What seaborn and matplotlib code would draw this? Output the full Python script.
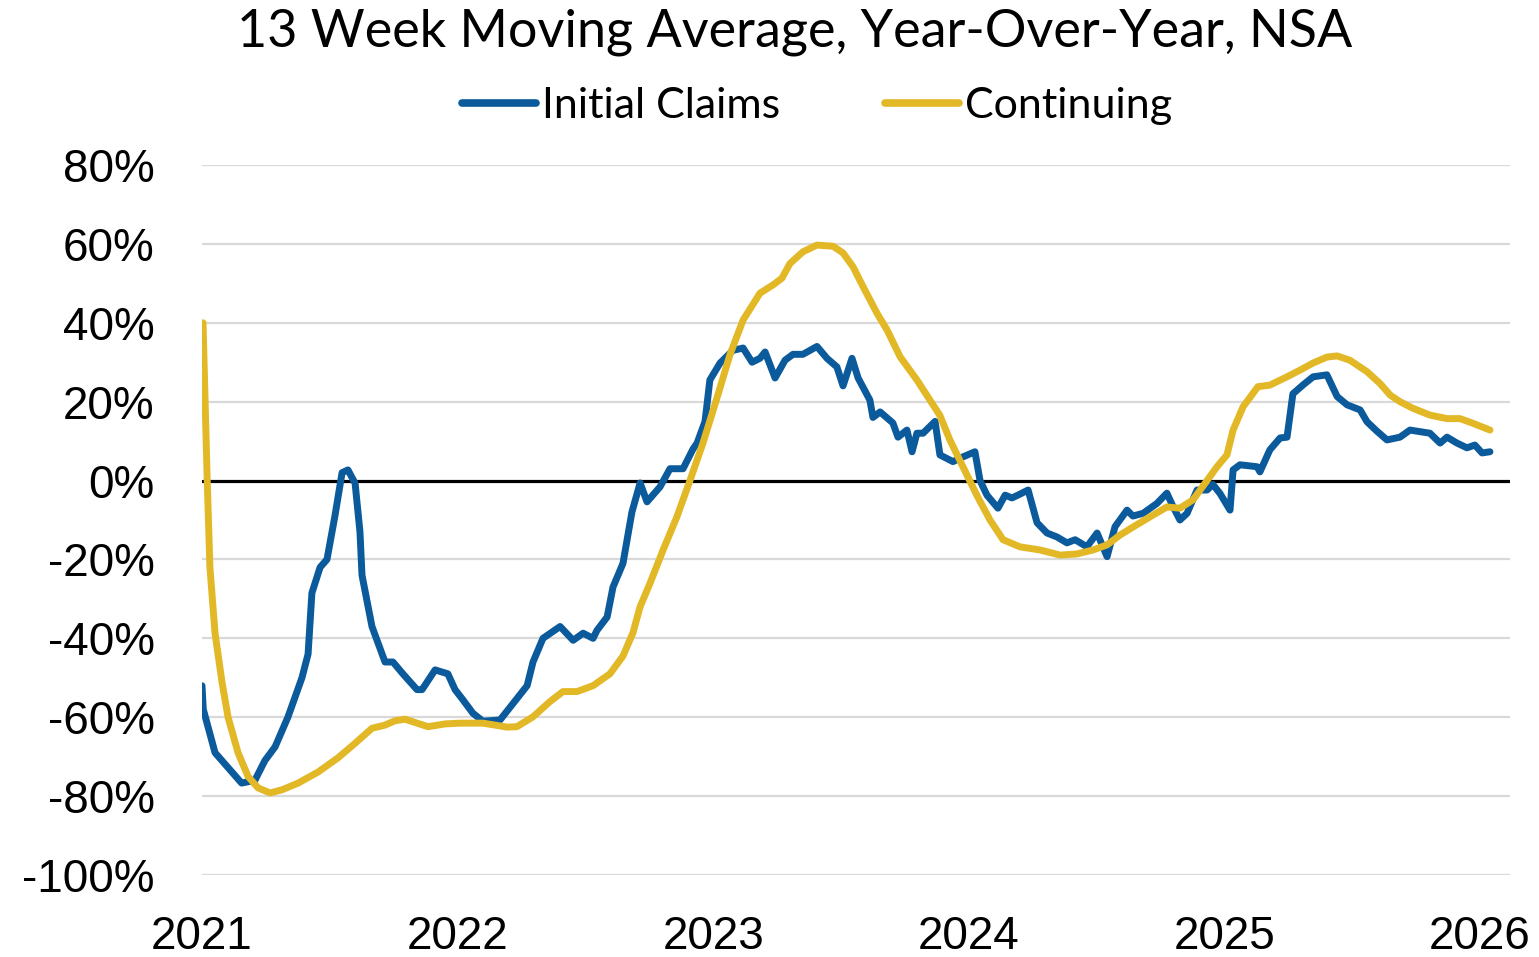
import numpy as np
import pandas as pd
import matplotlib
matplotlib.use("Agg")
import matplotlib.pyplot as plt
import seaborn as sns

# ---- data (decimal year, % YoY) ----
ic_year = [2021.000, 2021.005, 2021.051, 2021.155, 2021.207, 2021.246, 2021.286, 2021.336, 2021.391,
           2021.415, 2021.430, 2021.462, 2021.489, 2021.520, 2021.548, 2021.571, 2021.599, 2021.618,
           2021.626, 2021.665, 2021.716, 2021.747, 2021.786, 2021.841, 2021.861, 2021.912, 2021.962,
           2021.990, 2022.021, 2022.060, 2022.099, 2022.166, 2022.217, 2022.272, 2022.295, 2022.334,
           2022.401, 2022.452, 2022.491, 2022.530, 2022.545, 2022.585, 2022.608, 2022.647, 2022.682,
           2022.714, 2022.741, 2022.792, 2022.831, 2022.882, 2022.921, 2022.937, 2022.968, 2022.987,
           2023.027, 2023.077, 2023.117, 2023.152, 2023.183, 2023.203, 2023.242, 2023.281, 2023.312,
           2023.351, 2023.406, 2023.445, 2023.484, 2023.508, 2023.543, 2023.567, 2023.613, 2023.625,
           2023.653, 2023.703, 2023.723, 2023.758, 2023.778, 2023.797, 2023.821, 2023.868, 2023.887,
           2023.938, 2023.977, 2024.024, 2024.044, 2024.071, 2024.114, 2024.142, 2024.169, 2024.192,
           2024.232, 2024.267, 2024.306, 2024.345, 2024.384, 2024.416, 2024.462, 2024.502, 2024.541,
           2024.572, 2024.619, 2024.642, 2024.682, 2024.736, 2024.775, 2024.799, 2024.826, 2024.854,
           2024.893, 2024.932, 2024.955, 2024.983, 2025.022, 2025.034, 2025.061, 2025.128, 2025.139,
           2025.178, 2025.218, 2025.245, 2025.268, 2025.307, 2025.347, 2025.401, 2025.441, 2025.480,
           2025.531, 2025.558, 2025.597, 2025.636, 2025.687, 2025.726, 2025.804, 2025.844, 2025.871,
           2025.910, 2025.949, 2025.980, 2026.008, 2026.039]
ic_value = [-52, -58, -69, -76.7, -76, -71, -67.5, -60, -50,
            -44, -28.5, -22, -20, -9, 2, 2.7, -0.7, -13,
            -24, -37, -46, -46, -49, -53, -53, -48, -49,
            -53, -55.6, -59, -61, -60.7, -56.5, -52, -46, -40,
            -37, -40.5, -38.7, -40, -38, -34.6, -27, -21, -8,
            -0.6, -5.4, -1.6, 3, 3, 8, 9.5, 15, 25.5,
            29.8, 33, 33.6, 30, 31, 32.6, 26, 30.5, 32,
            32, 34, 31, 28.8, 24, 31, 26, 20.4, 16,
            17.4, 14.6, 11, 12.8, 7.3, 12, 12, 15, 6.5,
            4.8, 6, 7.3, 0, -3.7, -7, -3.7, -4.4, -3.7,
            -2.4, -10.7, -13.3, -14.3, -15.8, -15, -16.8, -13.3, -19.3,
            -11.7, -7.5, -9, -8.3, -5.8, -3.2, -6.6, -10, -8.3,
            -2.4, -2.4, -1, -3.3, -7.5, 2.7, 4, 3.5, 2.2,
            7.8, 10.8, 11, 22, 24.2, 26.3, 26.8, 21.3, 19.2,
            17.9, 14.9, 12.5, 10.3, 11, 12.8, 12, 9.5, 11,
            9.5, 8.3, 9, 7, 7.3]

cc_year = [2021.004, 2021.020, 2021.031, 2021.051, 2021.078, 2021.102, 2021.141, 2021.180, 2021.219,
           2021.266, 2021.313, 2021.376, 2021.454, 2021.532, 2021.599, 2021.665, 2021.716, 2021.755,
           2021.794, 2021.884, 2021.951, 2022.009, 2022.099, 2022.193, 2022.232, 2022.295, 2022.362,
           2022.412, 2022.467, 2022.530, 2022.596, 2022.647, 2022.686, 2022.714, 2022.753, 2022.804,
           2022.858, 2022.909, 2022.960, 2023.015, 2023.066, 2023.117, 2023.183, 2023.234, 2023.269,
           2023.300, 2023.351, 2023.406, 2023.469, 2023.508, 2023.547, 2023.586, 2023.641, 2023.680,
           2023.731, 2023.797, 2023.848, 2023.887, 2023.926, 2023.977, 2024.032, 2024.083, 2024.134,
           2024.200, 2024.279, 2024.357, 2024.423, 2024.486, 2024.541, 2024.592, 2024.642, 2024.709,
           2024.775, 2024.826, 2024.877, 2024.932, 2024.971, 2025.010, 2025.034, 2025.073, 2025.131,
           2025.178, 2025.245, 2025.296, 2025.347, 2025.401, 2025.441, 2025.491, 2025.558, 2025.609,
           2025.648, 2025.687, 2025.738, 2025.804, 2025.871, 2025.922, 2025.973, 2026.039]
cc_value = [40, 1, -22, -38.7, -51, -60, -69, -75, -77.9,
            -79.2, -78.4, -76.7, -73.9, -70.3, -66.6, -62.8, -62, -60.9,
            -60.5, -62.4, -61.7, -61.5, -61.5, -62.5, -62.4, -59.9, -56,
            -53.5, -53.5, -52, -49, -44.5, -38.6, -32, -26, -17.6,
            -9.2, 0, 9.5, 21, 32, 40.7, 47.5, 49.6, 51.3,
            55, 58, 59.7, 59.4, 57.7, 54.2, 49.2, 42.4, 38.2,
            31.4, 25.5, 20.4, 16.5, 10.3, 3.5, -3.8, -10, -15,
            -16.8, -17.6, -18.9, -18.6, -17.6, -16.3, -13.8, -11.8, -9.2,
            -6.7, -7, -4.9, 0, 3.5, 6.5, 12.8, 18.7, 23.8,
            24.2, 26.3, 28, 29.8, 31.3, 31.6, 30.5, 27.6, 24.6,
            21.7, 20, 18.3, 16.6, 15.7, 15.7, 14.5, 12.8]

series_names = ["Initial Claims", "Continuing"]
year_ticks = [2021, 2022, 2023, 2024, 2025, 2026]
pct_ticks = [80, 60, 40, 20, 0, -20, -40, -60, -80, -100]
title = "13 Week Moving Average, Year-Over-Year, NSA"

BLUE = "#0B5A9C"
GOLD = "#E2B826"

df = pd.concat([
    pd.DataFrame({"year": ic_year, "value": ic_value, "series": series_names[0]}),
    pd.DataFrame({"year": cc_year, "value": cc_value, "series": series_names[1]}),
], ignore_index=True)

sns.set_theme(style="white")
plt.rcParams["font.family"] = ["Lato", "DejaVu Sans"]
plt.rcParams["text.color"] = "black"
plt.rcParams["xtick.color"] = "black"
plt.rcParams["ytick.color"] = "black"
plt.rcParams["lines.solid_joinstyle"] = "round"
plt.rcParams["lines.solid_capstyle"] = "round"

W, H = 1539, 957
fig = plt.figure(figsize=(W / 100, H / 100), dpi=100)
ax = fig.add_axes([202 / W, 1 - 875 / H, (1510 - 202) / W, (875 - 165) / H])

for v in pct_ticks:
    if v != 0:
        ax.axhline(v, color="#D9D9D9", lw=1.6, zorder=0)
ax.axhline(0, color="black", lw=2.3, zorder=1)

sns.lineplot(data=df, x="year", y="value", hue="series", palette=[BLUE, GOLD],
             hue_order=series_names, linewidth=5.0, ax=ax, legend=False,
             sort=False, estimator=None, zorder=3)

ax.set_xlim(2021, 2021 + (1510 - 202) / 255.6)
ax.set_ylim(-100, 80)
ax.set_xticks(year_ticks)
ax.set_xticklabels([str(y) for y in year_ticks])
ax.set_yticks(pct_ticks)
ax.set_yticklabels([f"{v}%" for v in pct_ticks])
tick_font = ["Liberation Sans", "DejaVu Sans"]
for lab in ax.get_xticklabels() + ax.get_yticklabels():
    lab.set_fontfamily(tick_font)
    lab.set_color("black")
ax.tick_params(axis="y", length=0, pad=34, labelsize=33)
ax.tick_params(axis="x", length=0, pad=29, labelsize=33)
for s in ax.spines.values():
    s.set_visible(False)
ax.set_xlabel("")
ax.set_ylabel("")
ax.grid(False)

fig.text(795 / W, 1 - 32 / H, title, ha="center", va="center", fontsize=37.5, color="black")

handles = [plt.Line2D([], [], color=BLUE, lw=5.5, solid_capstyle="round"),
           plt.Line2D([], [], color=GOLD, lw=5.5, solid_capstyle="round")]
leg = fig.legend(handles, series_names, loc="center", bbox_to_anchor=(817 / W, 1 - 106 / H),
                 ncol=2, frameon=False, fontsize=31, handlelength=1.72, handletextpad=0.14,
                 columnspacing=2.44)
for t in leg.get_texts():
    t.set_color("black")

fig.savefig("out.png", dpi=100)
